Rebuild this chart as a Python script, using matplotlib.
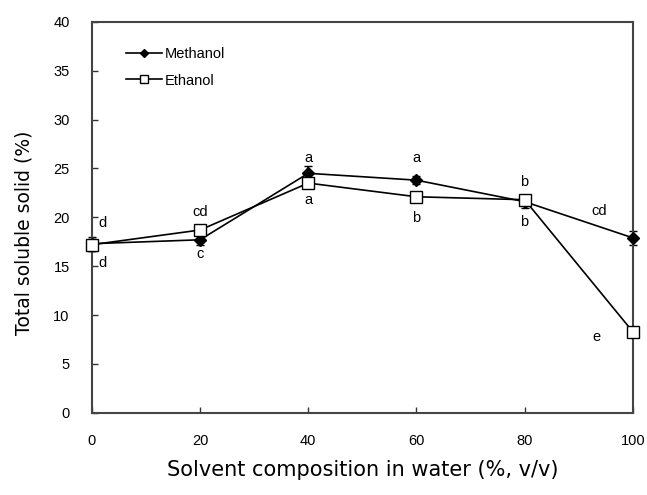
import matplotlib
matplotlib.use("Agg")
import matplotlib.pyplot as plt

# data
solvent = [0, 20, 40, 60, 80, 100]
methanol = [17.3, 17.7, 24.5, 23.8, 21.6, 17.9]
methanol_err = [0.7, 0.5, 0.7, 0.4, 0.6, 0.7]
ethanol = [17.2, 18.7, 23.5, 22.1, 21.8, 8.3]
ethanol_err = [0.6, 0.5, 0.5, 0.3, 0.5, 0.5]
methanol_letters = ["d", "c", "a", "a", "b", "cd"]
ethanol_letters = ["d", "cd", "a", "b", "b", "e"]

plt.rcParams["font.family"] = ["Liberation Sans", "DejaVu Sans"]

fig = plt.figure(figsize=(6.47, 4.95), dpi=100)
ax = fig.add_axes([0.142, 0.166, 0.836, 0.790])

# error bars drawn separately so the legend shows plain line + marker
ax.errorbar(solvent, methanol, yerr=methanol_err, fmt="none", ecolor="black",
            elinewidth=1.2, capsize=3, zorder=2, clip_on=False)
ax.errorbar(solvent, ethanol, yerr=ethanol_err, fmt="none", ecolor="black",
            elinewidth=1.2, capsize=3, zorder=2, clip_on=False)
ax.plot(solvent, methanol, color="black", lw=1.2, marker="D", ms=6,
        mfc="black", mec="black", label="Methanol", zorder=3, clip_on=False)
ax.plot(solvent, ethanol, color="black", lw=1.2, marker="s", ms=8,
        mfc="white", mec="black", label="Ethanol", zorder=4, clip_on=False)

# significance letters (offsets in points)
m_off = [(8, 15), (0, -10), (0, 11), (0, 16), (0, 14), (-24, 19)]
e_off = [(8, -13), (0, 13), (0, -12), (0, -15), (0, -16), (-26, -4)]
for x, y, t, o in zip(solvent, methanol, methanol_letters, m_off):
    ax.annotate(t, (x, y), xytext=o, textcoords="offset points",
                ha="center", va="center", fontsize=10.5)
for x, y, t, o in zip(solvent, ethanol, ethanol_letters, e_off):
    ax.annotate(t, (x, y), xytext=o, textcoords="offset points",
                ha="center", va="center", fontsize=10.5)

ax.set_xlim(0, 100)
ax.set_ylim(0, 40)
ax.set_xticks(solvent)
ax.set_yticks(range(0, 41, 5))
ax.tick_params(direction="in", length=4, width=1, labelsize=10.5,
               colors="#333333", labelcolor="black")
ax.tick_params(axis="x", pad=15)
ax.tick_params(axis="y", pad=16)
for s in ax.spines.values():
    s.set_linewidth(1.5)
    s.set_color("#444444")

ax.set_xlabel("Solvent composition in water (%, v/v)", fontsize=15,
              family="DejaVu Sans", labelpad=9)
ax.set_ylabel("Total soluble solid (%)", fontsize=13.5, family="DejaVu Sans")
ax.yaxis.set_label_coords(-0.108, 0.46)

ax.legend(loc="upper left", bbox_to_anchor=(0.063, 0.935), frameon=False,
          handlelength=2.5, handletextpad=0.15, labelspacing=0.85,
          fontsize=10.5, markerscale=0.75, borderaxespad=0, borderpad=0)

fig.savefig("out.png", dpi=100)
